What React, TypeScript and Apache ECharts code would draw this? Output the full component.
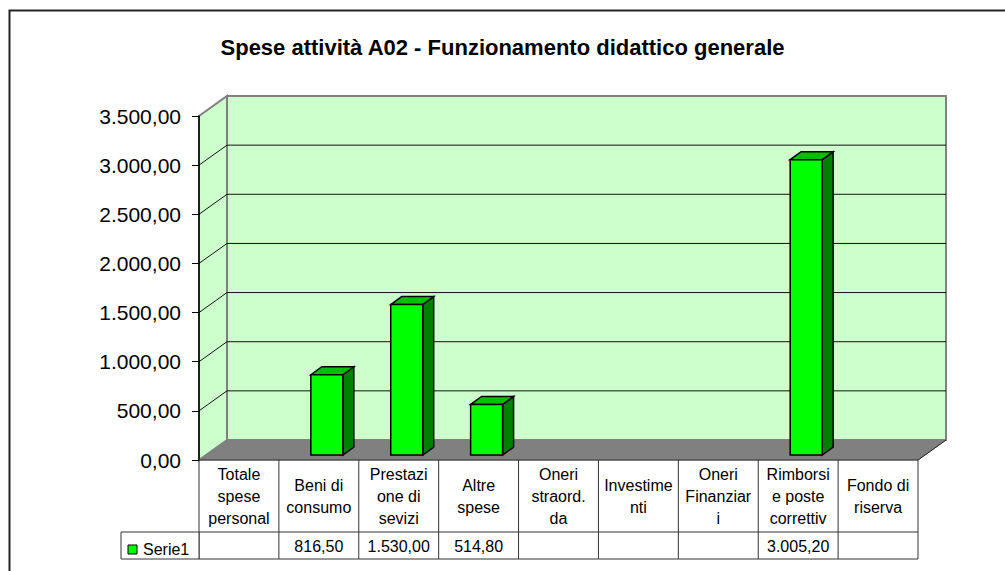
import React, { useEffect, useRef } from "react";
import * as echarts from "echarts";

const title = "Spese attività A02 - Funzionamento didattico generale";
const categories = [
  "Totale\nspese\npersonal",
  "Beni di\nconsumo",
  "Prestazi\none di\nsevizi",
  "Altre\nspese",
  "Oneri\nstraord.\nda",
  "Investime\nnti",
  "Oneri\nFinanziar\ni",
  "Rimborsi\ne poste\ncorrettiv",
  "Fondo di\nriserva",
];
const serie1: (number | null)[] = [null, 816.5, 1530.0, 514.8, null, null, null, 3005.2, null];
const seriesName = "Serie1";
const yTicks = [0, 500, 1000, 1500, 2000, 2500, 3000, 3500];

const fmtIt = (v: number) => {
  const fixed = v.toFixed(2);
  const [int, dec] = fixed.split(".");
  const withDots = int.replace(/\B(?=(\d{3})+(?!\d))/g, ".");
  return withDots + "," + dec;
};

const DX = 28;
const DY = -20;
const FONT = "'Liberation Sans', Arial, sans-serif";

export default function App() {
  const ref = useRef<HTMLDivElement>(null);
  useEffect(() => {
    const chart = echarts.init(ref.current!, null, { renderer: "svg" });
    const yMax = yTicks[yTicks.length - 1];

    const wallsRender = (params: any, api: any) => {
      const cs = params.coordSys;
      const x0 = cs.x;
      const x1 = cs.x + cs.width;
      const y0 = api.coord([0, 0])[1];
      const yTop = api.coord([0, yMax])[1];
      const children: any[] = [];
      children.push({
        type: "polygon",
        shape: { points: [[x0, y0], [x0, yTop], [x0 + DX, yTop + DY], [x0 + DX, y0 + DY]] },
        style: { fill: "#CCFFCC", stroke: "#808080", lineWidth: 2 },
      });
      children.push({
        type: "rect",
        shape: { x: x0 + DX, y: yTop + DY, width: x1 - x0, height: y0 - yTop },
        style: { fill: "#CCFFCC", stroke: "#808080", lineWidth: 2 },
      });
      yTicks.forEach((v) => {
        if (v === 0 || v === yMax) return;
        const y = api.coord([0, v])[1];
        children.push({
          type: "line",
          shape: { x1: x0 + DX, y1: y + DY, x2: x1 + DX, y2: y + DY },
          style: { stroke: "#111", lineWidth: 1 },
        });
        children.push({
          type: "line",
          shape: { x1: x0, y1: y, x2: x0 + DX, y2: y + DY },
          style: { stroke: "#111", lineWidth: 1 },
        });
      });
      children.push({
        type: "polygon",
        shape: { points: [[x0, y0], [x1, y0], [x1 + DX, y0 + DY], [x0 + DX, y0 + DY]] },
        style: { fill: "#808080", stroke: "#808080", lineWidth: 1 },
      });
      children.push({
        type: "line",
        shape: { x1: x1, y1: y0, x2: x1 + DX, y2: y0 + DY },
        style: { stroke: "#222", lineWidth: 1 },
      });
      return { type: "group", children };
    };

    const barsRender = (params: any, api: any) => {
      const idx = api.value(0);
      const val = api.value(1);
      if (val == null || isNaN(val)) return null;
      const colW = api.size([1, 0])[0];
      const W = colW * 0.4;
      const cx = api.coord([idx, 0])[0];
      const base = api.coord([idx, 0])[1] - 5;
      const top = api.coord([idx, val])[1] - 5;
      const L = cx - W / 2 + 8;
      const R = L + W;
      const ddx = 11;
      const ddy = -8;
      return {
        type: "group",
        children: [
          {
            type: "polygon",
            shape: { points: [[R, top], [R + ddx, top + ddy], [R + ddx, base + ddy], [R, base]] },
            style: { fill: "#008000", stroke: "#000", lineWidth: 1.5 },
          },
          {
            type: "polygon",
            shape: { points: [[L, top], [L + ddx, top + ddy], [R + ddx, top + ddy], [R, top]] },
            style: { fill: "#00C000", stroke: "#000", lineWidth: 1.5 },
          },
          {
            type: "rect",
            shape: { x: L, y: top, width: W, height: base - top },
            style: { fill: "#00FF00", stroke: "#000", lineWidth: 1.5 },
          },
        ],
      };
    };

    const HEAD_H = 72;
    const ROW_H = 27;
    const tableRender = (params: any, api: any) => {
      const idx = api.value(0);
      const colW = api.size([1, 0])[0];
      const cx = api.coord([idx, 0])[0];
      const y0 = api.coord([idx, 0])[1];
      const l = cx - colW / 2;
      const r = cx + colW / 2;
      const yRow = y0 + HEAD_H;
      const yEnd = yRow + ROW_H;
      const stroke = "#333";
      const children: any[] = [];
      if (idx === 0) {
        children.push({
          type: "line",
          shape: { x1: l, y1: y0, x2: l, y2: yEnd },
          style: { stroke, lineWidth: 1 },
        });
        const lx = l - 78;
        children.push({
          type: "rect",
          shape: { x: lx, y: yRow, width: 78, height: ROW_H },
          style: { fill: "#fff", stroke, lineWidth: 1 },
        });
        children.push({
          type: "rect",
          shape: { x: lx + 7, y: yRow + 13, width: 9, height: 9 },
          style: { fill: "#00FF00", stroke: "#000", lineWidth: 1 },
        });
        children.push({
          type: "text",
          style: {
            x: lx + 22,
            y: yRow + 17,
            text: seriesName,
            fill: "#000",
            font: "16px " + FONT,
            textAlign: "left",
            textVerticalAlign: "middle",
          },
        });
      }
      children.push({ type: "line", shape: { x1: r, y1: y0, x2: r, y2: yEnd }, style: { stroke, lineWidth: 1 } });
      children.push({ type: "line", shape: { x1: l, y1: y0, x2: r, y2: y0 }, style: { stroke, lineWidth: 1 } });
      children.push({ type: "line", shape: { x1: l, y1: yRow, x2: r, y2: yRow }, style: { stroke, lineWidth: 1 } });
      children.push({ type: "line", shape: { x1: l, y1: yEnd, x2: r, y2: yEnd }, style: { stroke, lineWidth: 1 } });
      children.push({
        type: "text",
        style: {
          x: cx,
          y: y0 + HEAD_H / 2,
          text: categories[idx],
          fill: "#000",
          font: "16px " + FONT,
          lineHeight: 22,
          textAlign: "center",
          textVerticalAlign: "middle",
        },
      });
      const v = serie1[idx];
      if (v != null) {
        children.push({
          type: "text",
          style: {
            x: cx,
            y: yRow + 14,
            text: fmtIt(v),
            fill: "#000",
            font: "16px " + FONT,
            textAlign: "center",
            textVerticalAlign: "middle",
          },
        });
      }
      return { type: "group", children };
    };

    chart.setOption({
      animation: false,
      backgroundColor: "#fff",
      title: {
        text: title,
        left: "center",
        top: 31,
        textStyle: { fontFamily: FONT, fontSize: 22, fontWeight: "bold", color: "#000" },
      },
      grid: { left: 199, top: 116, width: 719, height: 344 },
      xAxis: {
        type: "category",
        data: categories,
        axisLabel: { show: false },
        axisLine: { show: false },
        axisTick: { show: false },
      },
      yAxis: {
        type: "value",
        min: 0,
        max: 3500,
        interval: 500,
        axisLine: { show: true, lineStyle: { color: "#000", width: 1.5 } },
        axisTick: { show: true, length: 7, lineStyle: { color: "#000" } },
        splitLine: { show: false },
        axisLabel: {
          formatter: (v: number) => fmtIt(v),
          fontFamily: FONT,
          fontSize: 21,
          color: "#000",
          margin: 18,
        },
      },
      graphic: [
        {
          type: "rect",
          shape: { x: 9.5, y: 10.5, width: 1100, height: 700 },
          style: { fill: "none", stroke: "#222", lineWidth: 2 },
          z: -10,
        },
      ],
      series: [
        {
          type: "custom",
          name: "walls",
          z: -1,
          silent: true,
          renderItem: wallsRender,
          data: [[0, 0]],
          clip: false,
        },
        {
          type: "custom",
          name: seriesName,
          z: 3,
          renderItem: barsRender,
          data: serie1.map((v, i) => [i, v == null ? NaN : v]),
          clip: false,
        },
        {
          type: "custom",
          name: "table",
          z: 4,
          renderItem: tableRender,
          data: categories.map((_, i) => [i, 0]),
          clip: false,
        },
      ],
    });
    return () => chart.dispose();
  }, []);
  return (
    <div
      ref={ref}
      style={{ position: "fixed", left: 0, top: 0, width: 1005, height: 571 }}
    />
  );
}
